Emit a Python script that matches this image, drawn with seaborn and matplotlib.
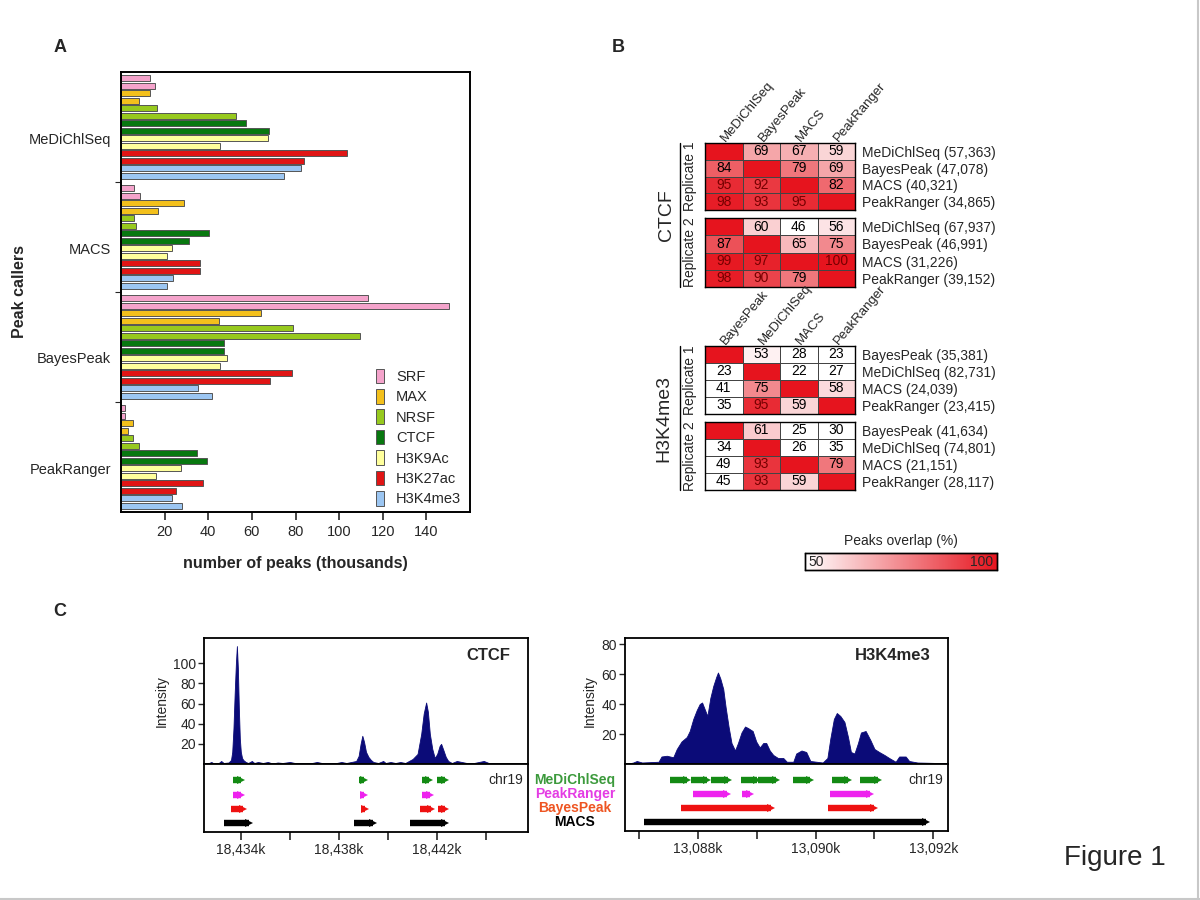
import numpy as np
import pandas as pd
import matplotlib.pyplot as plt
import seaborn as sns
from matplotlib.colors import LinearSegmentedColormap
from matplotlib.patches import Patch
from matplotlib.lines import Line2D

sns.set_style('white')
plt.rcParams['font.family'] = ['Liberation Sans', 'DejaVu Sans']

# PANEL A DATA (thousands of peaks, marks in order, replicate 1 / replicate 2)

callers = ['MeDiChlSeq', 'MACS', 'BayesPeak', 'PeakRanger']
marks = ['SRF', 'MAX', 'NRSF', 'CTCF', 'H3K9Ac', 'H3K27ac', 'H3K4me3']
mark_colors = ['#f4a3cb', '#f3c01c', '#97c91e', '#08780f',
               '#ffff9c', '#e01515', '#9cc6f2']

medi_rep1 = [13.4, 13.4, 16.6, 57.4, 67.4, 103.4, 82.7]
medi_rep2 = [15.7, 8.2, 52.5, 67.9, 45.3, 83.9, 74.8]
macs_rep1 = [6.0, 29.1, 6.0, 40.3, 23.5, 36.0, 24.0]
macs_rep2 = [8.8, 17.0, 7.0, 31.2, 20.9, 36.0, 21.2]
bayes_rep1 = [113.4, 64.3, 78.8, 47.1, 48.5, 78.2, 35.4]
bayes_rep2 = [150.5, 44.7, 109.6, 47.0, 45.3, 68.4, 41.6]
ranger_rep1 = [1.9, 5.6, 5.6, 34.9, 27.6, 37.7, 23.4]
ranger_rep2 = [1.9, 3.4, 8.3, 39.2, 16.1, 25.0, 28.1]

peak_ticks = [20, 40, 60, 80, 100, 120, 140]

# PANEL B DATA (peaks overlap %, None = diagonal)

ctcf_cols = ['MeDiChlSeq', 'BayesPeak', 'MACS', 'PeakRanger']
ctcf_rows1 = ['MeDiChlSeq (57,363)', 'BayesPeak (47,078)',
              'MACS (40,321)', 'PeakRanger (34,865)']
ctcf_rows2 = ['MeDiChlSeq (67,937)', 'BayesPeak (46,991)',
              'MACS (31,226)', 'PeakRanger (39,152)']
ctcf_rep1 = [[None, 69, 67, 59],
             [84, None, 79, 69],
             [95, 92, None, 82],
             [98, 93, 95, None]]
ctcf_rep2 = [[None, 60, 46, 56],
             [87, None, 65, 75],
             [99, 97, None, 100],
             [98, 90, 79, None]]

h3_cols = ['BayesPeak', 'MeDiChlSeq', 'MACS', 'PeakRanger']
h3_rows1 = ['BayesPeak (35,381)', 'MeDiChlSeq (82,731)',
            'MACS (24,039)', 'PeakRanger (23,415)']
h3_rows2 = ['BayesPeak (41,634)', 'MeDiChlSeq (74,801)',
            'MACS (21,151)', 'PeakRanger (28,117)']
h3_rep1 = [[None, 53, 28, 23],
           [23, None, 22, 27],
           [41, 75, None, 58],
           [35, 95, 59, None]]
h3_rep2 = [[None, 61, 25, 30],
           [34, None, 26, 35],
           [49, 93, None, 79],
           [45, 93, 59, None]]

# PANEL C DATA (position in kb, intensity)

ctcf_pos = [18432.6, 18432.8, 18432.9, 18433.1, 18433.2, 18433.3, 18433.5,
            18433.6, 18433.65, 18433.7, 18433.75, 18433.8, 18433.84, 18433.88,
            18433.92, 18433.96, 18434.0, 18434.05, 18434.1, 18434.2, 18434.3,
            18434.45, 18434.55, 18434.7, 18434.9, 18435.1, 18435.3, 18435.5,
            18435.7, 18436.0, 18436.2, 18436.4, 18436.6, 18436.9, 18437.1,
            18437.3, 18437.5, 18437.7, 18437.9, 18438.1, 18438.3, 18438.5,
            18438.7, 18438.8, 18438.88, 18438.95, 18439.02, 18439.1, 18439.2,
            18439.3, 18439.4, 18439.6, 18439.8, 18439.9, 18440.1, 18440.3,
            18440.5, 18440.7, 18440.85, 18441.0, 18441.2, 18441.35, 18441.45,
            18441.55, 18441.62, 18441.7, 18441.8, 18441.9, 18442.0, 18442.1,
            18442.16, 18442.25, 18442.35, 18442.45, 18442.6, 18442.8, 18443.0,
            18443.2, 18443.5, 18443.7, 18443.9, 18444.1, 18444.4, 18444.8,
            18445.6]
ctcf_sig = [0, 2, 0.5, 1, 3, 1, 1.5,
            4, 12, 35, 70, 100, 117, 95,
            55, 25, 12, 6, 4, 2, 1,
            3, 1, 2, 1, 2, 0.5, 1.5,
            1, 2, 1, 1, 0.5, 1, 2,
            1, 0.5, 1, 1, 2, 1, 2,
            3, 8, 20, 28, 22, 12, 7,
            4, 2, 1, 3, 1, 2, 1,
            2, 1, 3, 5, 10, 30, 50,
            61, 52, 30, 15, 6, 10, 18,
            20, 14, 7, 3, 1, 3, 2,
            1, 1, 2, 3, 1, 0.5, 0.5,
            0]

h3_pos = [13086.79, 13086.90, 13086.96, 13087.05, 13087.33, 13087.38, 13087.47,
          13087.58, 13087.64, 13087.72, 13087.81, 13087.86, 13087.92, 13087.98,
          13088.03, 13088.07, 13088.12, 13088.16, 13088.21, 13088.26, 13088.31,
          13088.34, 13088.38, 13088.43, 13088.47, 13088.52, 13088.57, 13088.63,
          13088.68, 13088.74, 13088.80, 13088.85, 13088.93, 13088.99, 13089.05,
          13089.11, 13089.16, 13089.22, 13089.28, 13089.36, 13089.45, 13089.51,
          13089.62, 13089.67, 13089.76, 13089.84, 13089.91, 13090.12, 13090.20,
          13090.25, 13090.31, 13090.36, 13090.42, 13090.49, 13090.55, 13090.60,
          13090.66, 13090.72, 13090.77, 13090.85, 13090.93, 13091.00, 13091.08,
          13091.17, 13091.25, 13091.36, 13091.42, 13091.53, 13091.59, 13091.73,
          13092.24]
h3_sig = [0, 1, 2, 1, 1.5, 5, 5.5,
          4.5, 10, 15, 18, 22, 30, 36,
          40, 41, 36, 32, 44, 52, 58,
          61, 57, 50, 38, 25, 14, 9,
          14, 21, 25, 24, 22, 15, 11,
          14, 14, 9, 6, 4, 4, 1.5,
          1.5, 7, 9, 8, 2, 1, 4,
          17, 30, 34, 32, 28, 18, 8,
          7, 14, 21, 22, 16, 10, 8,
          6, 4, 1.5, 5, 5, 2, 1,
          0.5]

track_callers = ['MeDiChlSeq', 'PeakRanger', 'BayesPeak', 'MACS']
track_colors = ['#138a13', '#ee22ee', '#ee1111', '#000000']
label_colors = ['#3c9a3c', '#e43ce4', '#ee5522', '#000000']

ctcf_segs = [
    [(18433.7, 18434.0), (18438.8, 18439.0), (18441.4, 18441.67), (18442.0, 18442.3)],
    [(18433.7, 18434.0), (18438.9, 18439.0), (18441.4, 18441.7)],
    [(18433.6, 18434.08), (18438.9, 18439.05), (18441.3, 18441.75), (18442.04, 18442.3)],
    [(18433.3, 18434.35), (18438.6, 18439.4), (18440.9, 18442.33)],
]
h3_segs = [
    [(13087.53, 13087.81), (13087.88, 13088.16), (13088.23, 13088.51),
     (13088.73, 13089.01), (13089.02, 13089.32), (13089.62, 13089.9),
     (13090.27, 13090.55), (13090.76, 13091.06)],
    [(13087.91, 13088.5), (13088.75, 13088.88), (13090.24, 13090.93)],
    [(13087.72, 13089.25), (13090.21, 13090.99)],
    [(13087.09, 13091.88)],
]

ctcf_ticks = [18434, 18436, 18438, 18440, 18442, 18444]
ctcf_labeled = [18434, 18438, 18442]
h3_ticks = [13087, 13088, 13089, 13090, 13091, 13092]
h3_labeled = [13088, 13090, 13092]

# FIGURE

W, H = 1200, 900
fig = plt.figure(figsize=(12, 9), dpi=100)


def px_rect(x0, y0, x1, y1):
    return [x0 / W, 1 - y1 / H, (x1 - x0) / W, (y1 - y0) / H]


# PANEL A - peaks per caller

rows = []
reps1 = [medi_rep1, macs_rep1, bayes_rep1, ranger_rep1]
reps2 = [medi_rep2, macs_rep2, bayes_rep2, ranger_rep2]
for caller, r1, r2 in zip(callers, reps1, reps2):
    for m, v1, v2 in zip(marks, r1, r2):
        rows.append({'caller': caller, 'series': m + ' 1', 'peaks': v1})
        rows.append({'caller': caller, 'series': m + ' 2', 'peaks': v2})
df = pd.DataFrame(rows)

series_order = [m + ' ' + r for m in marks for r in ['1', '2']]
palette = {m + ' ' + r: c for m, c in zip(marks, mark_colors) for r in ['1', '2']}

axA = fig.add_axes(px_rect(121, 72, 470, 512))
sns.barplot(data=df, x='peaks', y='caller', hue='series',
            order=callers, hue_order=series_order, palette=palette,
            orient='h', width=0.95, gap=0.2, saturation=1,
            edgecolor='#555555', linewidth=0.7, errorbar=None,
            legend=False, ax=axA)
axA.set_xlim(0, 160)
axA.set_ylim(3.5, -0.5)
axA.set_xticks(peak_ticks)
axA.set_xticklabels([str(t) for t in peak_ticks], fontsize=10.5)
axA.set_yticks([i + 0.1 for i in range(len(callers))])
axA.set_yticklabels(callers, fontsize=10.5)
axA.set_yticks([0.5, 1.5, 2.5], minor=True)
axA.tick_params(axis='y', which='major', length=0, pad=7)
axA.tick_params(axis='y', which='minor', length=4, width=0.8, direction='out', left=True)
axA.tick_params(axis='x', length=6, width=1.2, direction='out', bottom=True, pad=3)
for s in axA.spines.values():
    s.set_color('black')
    s.set_linewidth(1.4)
axA.set_xlabel('number of peaks (thousands)', fontsize=11.5, fontweight='bold')
axA.xaxis.set_label_coords(0.5, -0.1)
axA.set_ylabel('Peak callers', fontsize=11.5, fontweight='bold')
axA.yaxis.set_label_coords(-0.27, 0.5)

handles = [Patch(facecolor=c, edgecolor='#555555', linewidth=0.7) for c in mark_colors]
axA.legend(handles, marks, loc='lower right', bbox_to_anchor=(1.012, -0.017),
           frameon=False, fontsize=10.5, handlelength=0.55, handleheight=1.15,
           handletextpad=0.8, labelspacing=0.36)

# PANEL B - overlap heatmaps

cmap = LinearSegmentedColormap.from_list('overlap', ['#ffffff', '#e6141e'])


def overlap_block(rect, matrix, row_labels, col_labels, cax=None):
    ax = fig.add_axes(px_rect(*rect))
    vals = np.array([[np.nan if v is None else v for v in r] for r in matrix], dtype=float)
    shown = np.where(np.isnan(vals), 100, vals)
    text = np.array([['' if v is None else str(v) for v in r] for r in matrix])
    sns.heatmap(shown, cmap=cmap, vmin=50, vmax=100, annot=text, fmt='',
                annot_kws={'fontsize': 10, 'color': 'black'},
                linewidths=0.6, linecolor='#444444',
                cbar=cax is not None, cbar_ax=cax,
                cbar_kws={'orientation': 'horizontal'} if cax is not None else None,
                xticklabels=col_labels if col_labels else False,
                yticklabels=row_labels, ax=ax)
    for t in ax.texts:
        if t.get_text() and int(t.get_text()) >= 88:
            t.set_color('#760000')
    for s in ax.spines.values():
        s.set_visible(True)
        s.set_color('black')
        s.set_linewidth(1.0)
    ax.yaxis.tick_right()
    ax.tick_params(axis='y', length=0, labelrotation=0, labelsize=10, pad=5)
    if col_labels:
        ax.xaxis.tick_top()
        ax.tick_params(axis='x', length=0, pad=2)
        for lab in ax.get_xticklabels():
            lab.set_rotation(50)
            lab.set_ha('left')
            lab.set_va('center')
            lab.set_rotation_mode('anchor')
            lab.set_fontsize(9.5)
    return ax


cax = fig.add_axes(px_rect(805, 553, 997, 570))
c1 = overlap_block((705, 143, 855, 210), ctcf_rep1, ctcf_rows1, ctcf_cols)
c2 = overlap_block((705, 218, 855, 287), ctcf_rep2, ctcf_rows2, None)
h1 = overlap_block((705, 346, 855, 414), h3_rep1, h3_rows1, h3_cols, cax=cax)
h2 = overlap_block((705, 422, 855, 490), h3_rep2, h3_rows2, None)

for ax, lab in [(c1, 'Replicate 1'), (c2, 'Replicate 2'),
                (h1, 'Replicate 1'), (h2, 'Replicate 2')]:
    ax.text(-0.1, 0.5, lab, transform=ax.transAxes, rotation=90,
            ha='center', va='center', fontsize=10)

fig.add_artist(Line2D([680 / W, 680 / W], [1 - 143 / H, 1 - 287 / H], color='black', lw=1))
fig.add_artist(Line2D([680 / W, 680 / W], [1 - 346 / H, 1 - 490 / H], color='black', lw=1))
fig.text(666 / W, 1 - 215 / H, 'CTCF', rotation=90, ha='center', va='center', fontsize=14)
fig.text(664 / W, 1 - 418 / H, 'H3K4me3', rotation=90, ha='center', va='center', fontsize=14)

cax.set_xticks([])
cax.set_yticks([])
for s in cax.spines.values():
    s.set_visible(True)
    s.set_color('black')
    s.set_linewidth(1.0)
cax.text(0.02, 0.45, '50', transform=cax.transAxes, ha='left', va='center', fontsize=10)
cax.text(0.98, 0.45, '100', transform=cax.transAxes, ha='right', va='center', fontsize=10)
cax.text(0.5, 1.7, 'Peaks overlap (%)', transform=cax.transAxes, ha='center',
         va='center', fontsize=10)

# PANEL C - signal tracks

navy = '#0b0b78'
row_y = [1.2, 2.25, 3.3, 4.35]
track_lims = {'CTCF': (18432.5, 18445.7), 'H3K4me3': (13086.76, 13092.25)}


def signal_track(sig_rect, ann_rect, pos, sig, ymax, yticks, ticks, labeled,
                 segs, title, show_names):
    ax = fig.add_axes(px_rect(*sig_rect))
    ax.fill_between(pos, sig, color=navy, lw=0.6, edgecolor=navy)
    ax.set_xlim(track_lims[title])
    ax.set_ylim(0, ymax)
    ax.set_xticks([])
    ax.set_yticks(yticks)
    ax.set_yticklabels([str(t) for t in yticks], fontsize=10)
    ax.tick_params(axis='y', length=4, width=1, direction='out', left=True, pad=2)
    ax.set_ylabel('Intensity', fontsize=10, labelpad=3)
    ax.text(0.945, 0.86, title, transform=ax.transAxes, ha='right', va='center',
            fontsize=12, fontweight='bold')
    for s in ax.spines.values():
        s.set_color('black')
        s.set_linewidth(1.3)

    an = fig.add_axes(px_rect(*ann_rect))
    an.set_xlim(track_lims[title])
    an.set_ylim(5, 0)
    an.set_yticks([])
    for seg_list, col, y in zip(segs, track_colors, row_y):
        for s0, s1 in seg_list:
            an.plot([s0, s1], [y, y], color=col, lw=4.6, solid_capstyle='butt')
            an.plot([s1], [y], marker='>', color=col, ms=5.2, mew=0)
    an.text(0.985, row_y[0], 'chr19', transform=an.get_yaxis_transform(),
            ha='right', va='center', fontsize=10)
    an.set_xticks(ticks)
    an.set_xticklabels([f'{t:,}k' if t in labeled else '' for t in ticks], fontsize=10)
    an.tick_params(axis='x', length=6, width=1.2, direction='out', bottom=True, pad=2)
    for s in an.spines.values():
        s.set_color('black')
        s.set_linewidth(1.3)
    if show_names:
        for name, col, y in zip(track_callers, label_colors, row_y):
            an.text(-0.155, y, name, transform=an.get_yaxis_transform(), ha='center',
                    va='center', fontsize=10, fontweight='bold', color=col)
    return ax, an


signal_track((204, 638, 528, 764), (204, 764, 528, 832), ctcf_pos, ctcf_sig, 125,
             [20, 40, 60, 80, 100], ctcf_ticks, ctcf_labeled, ctcf_segs, 'CTCF', False)
signal_track((625, 638, 948, 764), (625, 764, 948, 831), h3_pos, h3_sig, 84,
             [20, 40, 60, 80], h3_ticks, h3_labeled, h3_segs, 'H3K4me3', True)

# LABELS

fig.text(60 / W, 1 - 47 / H, 'A', fontsize=13, fontweight='bold', ha='center', va='center')
fig.text(618 / W, 1 - 47 / H, 'B', fontsize=13, fontweight='bold', ha='center', va='center')
fig.text(60 / W, 1 - 611 / H, 'C', fontsize=13, fontweight='bold', ha='center', va='center')
fig.text(1115 / W, 1 - 858 / H, 'Figure 1', fontsize=20, ha='center', va='center')

fig.add_artist(Line2D([0, 1], [1.5 / H, 1.5 / H], color='#c8c8c8', lw=1.5))
fig.add_artist(Line2D([1 - 2 / W, 1 - 2 / W], [0, 1], color='#c8c8c8', lw=1.5))

plt.savefig('out.png', dpi=100)
